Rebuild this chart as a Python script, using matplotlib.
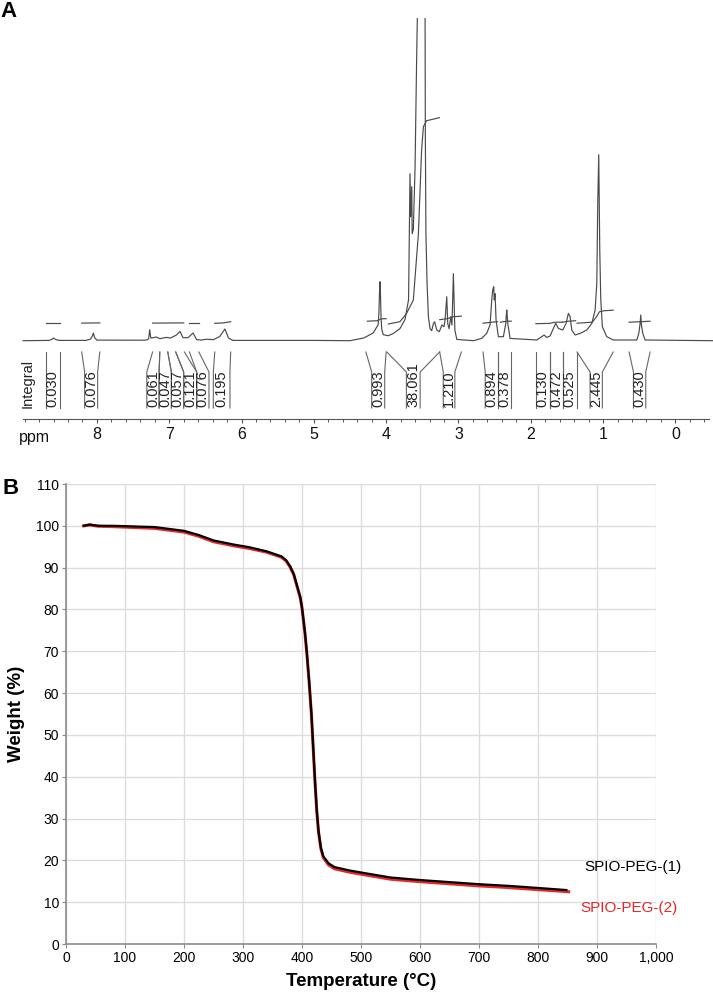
import numpy as np
import matplotlib
matplotlib.use("Agg")
import matplotlib.pyplot as plt
from matplotlib.ticker import MultipleLocator, FixedLocator, FuncFormatter

plt.rcParams['font.family'] = ['Liberation Sans', 'DejaVu Sans']
NARROW = ['Liberation Sans Narrow', 'Liberation Sans', 'DejaVu Sans']

# ---------- A: 1H NMR (heights in px above the baseline)
spec_ppm = [9.02, 8.75, 8.66, 8.62, 8.60, 8.57, 8.52, 8.15, 8.09, 8.06, 8.05, 8.03, 8.00,
            7.60, 7.35, 7.31, 7.285, 7.27, 7.255, 7.22, 7.18, 7.13, 7.04, 6.98, 6.90, 6.85,
            6.81, 6.74, 6.67, 6.62, 6.55, 6.48, 6.39, 6.30, 6.23, 6.18, 6.12, 5.00, 4.50,
            4.31, 4.18, 4.11, 4.10, 4.092, 4.085, 4.078, 4.07, 4.06, 4.04, 3.97, 3.90, 3.81,
            3.74, 3.69, 3.67, 3.66, 3.646, 3.64, 3.624, 3.60, 3.58, 3.565, 3.515, 3.462,
            3.458, 3.45, 3.434, 3.416, 3.393, 3.37, 3.347, 3.33, 3.30, 3.264, 3.23, 3.20,
            3.185, 3.162, 3.148, 3.13, 3.106, 3.09, 3.07, 3.05, 3.023, 2.79, 2.68, 2.61,
            2.563, 2.54, 2.526, 2.512, 2.505, 2.494, 2.48, 2.448, 2.379, 2.346, 2.34, 2.332,
            2.325, 2.318, 2.286, 1.917, 1.848, 1.816, 1.779, 1.733, 1.687, 1.655, 1.618,
            1.557, 1.512, 1.48, 1.456, 1.433, 1.387, 1.318, 1.225, 1.156, 1.11, 1.087,
            1.073, 1.06, 1.046, 1.032, 1.01, 0.949, 0.858, 0.534, 0.506, 0.49, 0.479, 0.47,
            0.451, 0.419, -0.52]
spec_h = [0, 0.3, 0.3, 1.5, 2.7, 1.2, 0.3, 0.3, 1.5, 5, 7.7, 3, 0.6,
          0.5, 0.5, 0.8, 1.7, 11, 2.7, 3, 3.7, 2, 3.3, 2.7, 5.7, 9.3,
          3, 3, 7.7, 1, 0.7, 1.5, 1, 4.3, 11.7, 2.7, 0.3, 0.3, 0,
          2.7, 7.7, 16, 28, 48, 59, 45, 22, 11, 6, 5, 7.3, 12,
          21, 41, 167, 124, 154, 107, 111, 174, 274, 340, 700, 340,
          207, 107, 57, 24, 12, 10, 17, 19, 10.7, 9, 15.7, 14,
          20.7, 44, 17, 12, 24, 15.7, 67, 10.7, 1.3, 0, 2.3, 7.3,
          15.7, 40.7, 50.7, 54, 40.7, 47, 20.7, 4, 4, 17, 24, 30.7,
          24, 17, 2.3, 0.7, 4, 5.7, 3.3, 4.7, 12.3, 17.3, 12.3,
          10.7, 17.3, 27.3, 24, 10.7, 5.7, 7.3, 10.7, 17.3, 30.7, 57,
          141, 186, 91, 41, 14, 4, 0.7, 0.7, 7.3, 16, 25.7, 16,
          7.3, 0.7, 0]

# integral traces drawn over the spectrum
trace_ppm = [[8.71, 8.51], [8.21, 7.96], [7.23, 6.80], [6.72, 6.59], [6.37, 6.25, 6.15],
             [4.26, 4.12, 4.08, 4.04, 4.00],
             [3.97, 3.81, 3.72, 3.624, 3.554, 3.51, 3.485, 3.44, 3.264],
             [3.26, 3.16, 3.07, 2.96], [2.66, 2.53, 2.46], [2.42, 2.33, 2.27],
             [1.93, 1.74, 1.66, 1.56], [1.56, 1.48, 1.38],
             [1.36, 1.15, 1.09, 1.05, 0.98, 0.86], [0.64, 0.48, 0.35]]
trace_h = [[17.6, 17.6], [17.6, 17.8], [17.6, 17.8], [17.6, 17.6], [17.4, 17.8, 19],
           [19.5, 20, 21.5, 22, 22],
           [16.7, 19, 27, 40.7, 107, 190, 214, 220, 223],
           [21, 22, 24, 24.5], [17.5, 18.5, 19], [18.5, 19.5, 19.5],
           [17, 17.3, 18.5, 18.5], [18.5, 19.5, 20],
           [17.5, 18.5, 24, 29, 30, 30.5], [18.5, 19, 19.5]]

# integral values with region (top of bracket) and label box (bottom of bracket), ppm
int_labels = ['0.030', '0.076', '0.061', '0.047', '0.057', '0.121', '0.076', '0.195',
              '0.993', '38.061', '1.210', '0.894', '0.378', '0.130', '0.472', '0.525',
              '2.445', '0.430']
int_top = [(8.71, 8.51), (8.21, 7.96), (7.23, 7.13), (7.13, 7.02), (7.02, 6.91),
           (6.91, 6.79), (6.72, 6.59), (6.37, 6.15), (4.28, 4.00), (3.99, 3.26),
           (3.26, 2.96), (2.66, 2.46), (2.46, 2.27), (1.93, 1.74), (1.74, 1.56),
           (1.56, 1.36), (1.36, 0.86), (0.64, 0.35)]
int_box = [(8.71, 8.51), (8.17, 7.99), (7.31, 7.14), (7.14, 6.97), (6.97, 6.80),
           (6.80, 6.62), (6.62, 6.45), (6.39, 6.16), (4.20, 4.02), (3.72, 3.53),
           (3.21, 3.05), (2.63, 2.46), (2.46, 2.27), (1.93, 1.74), (1.74, 1.56),
           (1.56, 1.36), (1.18, 1.01), (0.58, 0.41)]
ppm_ticks = [0, 1, 2, 3, 4, 5, 6, 7, 8]

# ---------- B: TGA
temp1 = [30, 40, 55, 80, 150, 200, 225, 250, 285, 310, 340, 365, 373, 380, 386, 390, 397,
         400, 405, 408, 412, 416, 419, 422, 425, 428, 432, 436, 445, 455, 480, 500, 550,
         600, 650, 700, 750, 800, 848]
weight1 = [100, 100.3, 100, 100, 99.7, 98.8, 97.8, 96.5, 95.5, 94.9, 93.9, 92.7, 91.8,
           90.3, 88.5, 86.5, 83, 80.5, 74.5, 70, 63, 55, 47, 39, 32, 27, 23, 21, 19.3,
           18.4, 17.6, 17.1, 15.9, 15.3, 14.8, 14.3, 13.9, 13.4, 12.9]
temp2 = [30, 40, 55, 80, 150, 200, 225, 250, 285, 310, 340, 365, 373, 380, 386, 390, 397,
         400, 405, 408, 412, 416, 419, 422, 425, 428, 432, 436, 445, 455, 480, 500, 550,
         600, 650, 700, 750, 800, 852]
weight2 = [100, 100.2, 99.9, 99.8, 99.4, 98.5, 97.5, 96.2, 95.2, 94.6, 93.7, 92.5, 91.6,
           90.1, 88.3, 86.3, 82.8, 80.3, 74.3, 69.8, 62.8, 54.8, 46.8, 38.8, 31.8, 26.8,
           22.8, 20.7, 18.9, 18.0, 17.2, 16.7, 15.5, 14.9, 14.4, 13.9, 13.5, 13.0, 12.5]


def draw_nmr(fig):
    ax = fig.add_axes([0, 1 - 460 / 999, 1, 442 / 999])
    ax.set_xlim(9.34, -0.52)
    ax.set_ylim(-119.3, 322.7)
    gray = '#4a4a4a'
    ax.plot(spec_ppm, spec_h, color=gray, lw=0.85)
    for xs, ys in zip(trace_ppm, trace_h):
        ax.plot(xs, ys, color=gray, lw=0.85)

    # brackets + rotated integral values
    y_top, y_bend, y_bot = -11.3, -31.3, -67.3
    for lab, (t0, t1), (b0, b1) in zip(int_labels, int_top, int_box):
        for t, b in [(t0, b0), (t1, b1)]:
            ax.plot([t, b, b], [y_top, y_bend, y_bot], color='#666666', lw=0.8)
        ax.text((b0 + b1) / 2, -66.5, lab, rotation=90, ha='center', va='bottom',
                fontsize=10.5, family=NARROW, color='#222222')
    ax.text(8.96, -42.3, 'Integral', rotation=90, ha='center', va='center',
            fontsize=10.5, family=NARROW, color='#222222')

    # ppm scale
    for s in ['top', 'left', 'right']:
        ax.spines[s].set_visible(False)
    sp = ax.spines['bottom']
    sp.set_position(('data', -78.3))
    sp.set_bounds(-0.47, 9.02)
    sp.set_color('#555555')
    sp.set_linewidth(0.8)
    ax.set_yticks([])
    ax.xaxis.set_major_locator(FixedLocator(ppm_ticks))
    ax.xaxis.set_minor_locator(FixedLocator(np.arange(-0.4, 9.01, 0.2)))
    ax.tick_params(axis='x', which='major', length=3, width=0.8, color='#555555',
                   labelsize=11.5, pad=3, labelcolor='#111111')
    ax.tick_params(axis='x', which='minor', length=2, width=0.7, color='#555555')
    ax.text(8.87, -100.8, 'ppm', ha='center', va='baseline', fontsize=11.5,
            color='#111111')
    fig.text(0.0, 1 - 1 / 999, 'A', ha='left', va='top', fontsize=16, fontweight='bold')


def draw_tga(fig):
    ax = fig.add_axes([66 / 713, 1 - 944 / 999, 590 / 713, 460 / 999])
    ax.plot(temp2, weight2, color='#e8262a', lw=2.2)
    ax.plot(temp1, weight1, color='black', lw=1.6)
    ax.set_xlim(0, 1000)
    ax.set_ylim(0, 110)
    ax.xaxis.set_major_locator(MultipleLocator(100))
    ax.yaxis.set_major_locator(MultipleLocator(10))
    ax.xaxis.set_major_formatter(FuncFormatter(lambda v, p: f'{v:,.0f}'))
    ax.grid(True, color='#dcdcdc', lw=1)
    ax.set_axisbelow(True)
    for s in ['top', 'right']:
        ax.spines[s].set_visible(False)
    for s in ['left', 'bottom']:
        ax.spines[s].set_color('#8c8c8c')
        ax.spines[s].set_linewidth(1.2)
    ax.tick_params(length=3, color='#8c8c8c', labelsize=10, pad=2)
    ax.set_xlabel('Temperature (°C)', fontsize=13.5, fontweight='bold', labelpad=6)
    ax.set_ylabel('Weight (%)', fontsize=13.5, fontweight='bold', labelpad=8)
    ax.text(878, 18.4, 'SPIO-PEG-(1)', fontsize=11, va='center', ha='left',
            color='black', clip_on=False)
    ax.text(871, 8.5, 'SPIO-PEG-(2)', fontsize=11, va='center', ha='left',
            color='#e8262a', clip_on=False)
    fig.text(2 / 713, 1 - 478 / 999, 'B', ha='left', va='top', fontsize=16,
             fontweight='bold')


def main():
    fig = plt.figure(figsize=(7.13, 9.99), dpi=100)
    draw_nmr(fig)
    draw_tga(fig)
    fig.savefig('out.png', dpi=100)


if __name__ == '__main__':
    main()
